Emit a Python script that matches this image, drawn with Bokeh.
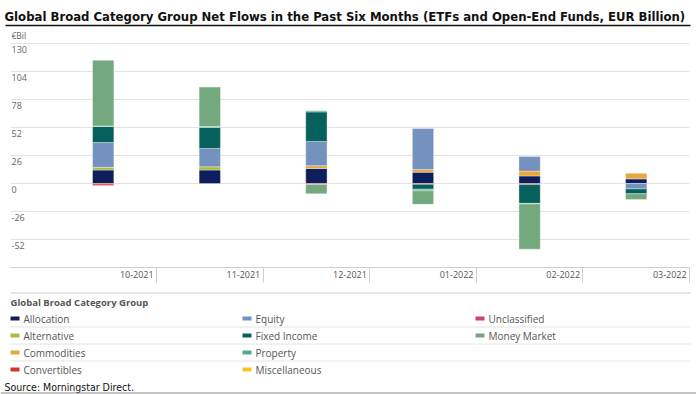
import numpy as np
from bokeh.plotting import figure
from bokeh.models import Range1d, FixedTicker
from bokeh.layouts import column
from bokeh.core.properties import value
from bokeh.embed import file_html
from bokeh.resources import INLINE

# ---------------- data ----------------
title_text = "Global Broad Category Group Net Flows in the Past Six Months (ETFs and Open-End Funds, EUR Billion)"
unit_label = "€Bil"
legend_title = "Global Broad Category Group"
source_text = "Source: Morningstar Direct."

months = ["10-2021", "11-2021", "12-2021", "01-2022", "02-2022", "03-2022"]
y_ticks = [-78, -52, -26, 0, 26, 52, 78, 104, 130]

allocation    = [12.5, 12.5, 14.0, 10.5, 7.0, 4.3]
alternative   = [2.5, 3.0, 0.0, 0.0, 0.0, 0.0]
commodities   = [0.0, 0.0, 2.5, 2.5, 4.5, 5.2]
convertibles  = [-1.5, 0.0, -1.0, -0.8, -1.0, 0.0]
equity        = [23.0, 17.0, 22.5, 38.0, 13.5, -5.0]
fixed_income  = [15.0, 19.5, 27.5, -4.5, -17.5, -4.6]
property_     = [0.5, 1.0, 1.0, -1.5, -0.5, 0.0]
miscellaneous = [0.0, 0.0, 0.0, 0.0, 0.0, 0.0]
unclassified  = [-0.5, 0.0, 0.0, 0.0, 0.0, 0.0]
money_market  = [61.0, 36.5, -8.5, -12.5, -42.0, -5.3]

series = [
    ("Allocation", allocation, "#0e1e5c"),
    ("Alternative", alternative, "#a9bd3e"),
    ("Commodities", commodities, "#e9a63e"),
    ("Convertibles", convertibles, "#d7332a"),
    ("Equity", equity, "#7591be"),
    ("Fixed Income", fixed_income, "#06615d"),
    ("Property", property_, "#55aa8c"),
    ("Miscellaneous", miscellaneous, "#f3c623"),
    ("Unclassified", unclassified, "#c9456f"),
    ("Money Market", money_market, "#74a87e"),
]
colors = {n: c for n, _, c in series}

legend_rows = [
    ["Allocation", "Equity", "Unclassified"],
    ["Alternative", "Fixed Income", "Money Market"],
    ["Commodities", "Property", None],
    ["Convertibles", "Miscellaneous", None],
]

NARROW = "Liberation Sans Narrow, DejaVu Sans Condensed, sans-serif"
SANS = "Open Sans"
W = 696

# ---------------- header ----------------
HH = 30
h = figure(width=W, height=HH, x_range=Range1d(0, W), y_range=Range1d(HH, 0),
           x_axis_location=None, y_axis_location=None, min_border=0, title=None,
           output_backend="svg", toolbar_location=None, frame_align=False)
h.grid.visible = False
h.outline_line_color = None
h.text(x=[4], y=[16], text=[title_text], text_font=value(NARROW), text_font_style="bold",
       text_font_size="13px", text_baseline="middle", text_align="left", text_color="#111111")
h.segment(x0=[5], y0=[25], x1=[690], y1=[25], line_color="#111111", line_width=1.3)

# ---------------- main chart ----------------
x_start = -0.3696
p = figure(width=W, height=260, x_range=Range1d(x_start, len(months)), y_range=Range1d(-78, 142.07),
           y_axis_location=None, min_border_left=10, min_border_right=7, min_border_top=0,
           min_border_bottom=23, title=None, output_backend="svg", toolbar_location=None,
           frame_align=False)
p.outline_line_color = None
p.xgrid.visible = False
p.ygrid.ticker = FixedTicker(ticks=y_ticks)
p.ygrid.grid_line_color = "#e3e3e3"
p.ygrid.grid_line_width = 1

label_shift = 0.185
major = [round(i + 1 - label_shift, 3) for i in range(len(months))]
bounds = [i + 1 for i in range(len(months))]
ax = p.xaxis[0]
ax.ticker = FixedTicker(ticks=major, minor_ticks=bounds)
ax.major_label_overrides = {t: m for t, m in zip(major, months)}
ax.major_tick_out = 0
ax.major_tick_in = 0
ax.minor_tick_out = 15
ax.minor_tick_in = 0
ax.minor_tick_line_color = "#d0d0d0"
ax.axis_line_color = "#cfcfcf"
ax.major_label_standoff = -12
ax.major_label_text_font = SANS
ax.major_label_text_font_size = "9px"
ax.major_label_text_color = "#555555"

xc = np.arange(len(months)) + 0.5
pos_base = np.zeros(len(months))
neg_base = np.zeros(len(months))
for name, vals, col in series:
    v = np.array(vals, dtype=float)
    bottom = np.where(v >= 0, pos_base, neg_base + v)
    top = np.where(v >= 0, pos_base + v, neg_base)
    pos_base = pos_base + np.where(v > 0, v, 0)
    neg_base = neg_base + np.where(v < 0, v, 0)
    m = v != 0
    if m.any():
        p.vbar(x=xc[m], width=0.2, bottom=bottom[m], top=top[m], fill_color=col,
               line_color="white", line_width=0.6, line_alpha=0.6)

lab = [t for t in y_ticks if t > min(y_ticks)]
p.text(x=[x_start] * len(lab), y=lab, text=[str(t) for t in lab], x_offset=1, y_offset=3,
       text_font=value(SANS), text_font_size="9px", text_color="#666666",
       text_baseline="top", text_align="left")
p.text(x=[x_start], y=[max(y_ticks)], text=[unit_label], x_offset=1, y_offset=-2,
       text_font=value(SANS), text_font_size="8.5px", text_color="#666666",
       text_baseline="bottom", text_align="left")

# ---------------- legend / footer ----------------
LH = 104
lg = figure(width=W, height=LH, x_range=Range1d(0, W), y_range=Range1d(LH, 0),
            x_axis_location=None, y_axis_location=None, min_border=0, title=None,
            output_backend="svg", toolbar_location=None, frame_align=False)
lg.grid.visible = False
lg.outline_line_color = None

row_y = [28, 45, 62, 79]
col_x = [10, 242, 475]
lg.segment(x0=[10], y0=[2.5], x1=[690], y1=[2.5], line_color="#cccccc", line_width=1)
sep_y = [(row_y[i] + row_y[i + 1]) / 2 for i in range(len(row_y) - 1)]
lg.segment(x0=[10] * len(sep_y), y0=sep_y, x1=[690] * len(sep_y), y1=sep_y,
           line_color="#e4e4e4", line_width=1)
lg.text(x=[10], y=[12], text=[legend_title], text_font=value(SANS), text_font_style="bold",
        text_font_size="9.5px", text_color="#555555", text_baseline="middle")

mx, my, mt, mc = [], [], [], []
for r, row in enumerate(legend_rows):
    for c, name in enumerate(row):
        if name is None:
            continue
        mx.append(col_x[c]); my.append(row_y[r]); mt.append(name); mc.append(colors[name])
lg.rect(x=[x + 4.5 for x in mx], y=my, width=9, height=4, fill_color=mc, line_color=None)
lg.text(x=[x + 13 for x in mx], y=my, text=mt, text_font=value(SANS), text_font_size="10px",
        text_color="#555555", text_baseline="middle")

lg.text(x=[4], y=[96], text=[source_text], text_font=value(NARROW), text_font_size="10.5px",
        text_color="#111111", text_baseline="middle")
lg.segment(x0=[0], y0=[102.5], x1=[W], y1=[102.5], line_color="#888888", line_width=1)

layout = column(h, p, lg, spacing=0)
open("out.html", "w").write(file_html(layout, INLINE))
